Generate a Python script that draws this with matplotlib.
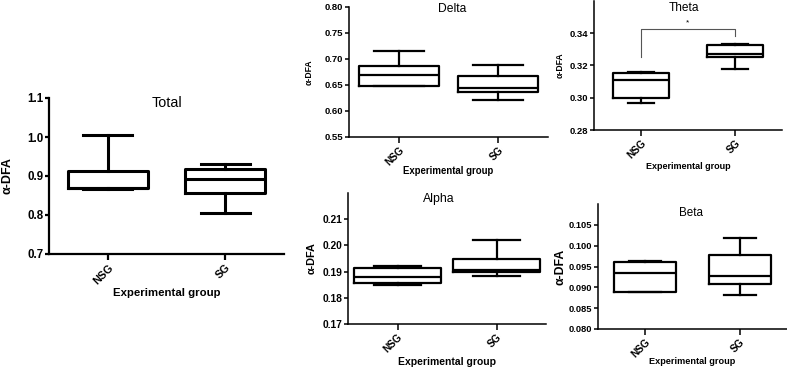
import matplotlib
matplotlib.use('Agg')
import matplotlib.pyplot as plt
from matplotlib.ticker import FormatStrFormatter

plt.rcParams['font.family'] = ['Liberation Sans', 'DejaVu Sans']

# --- data: [whisker low, q1, median, q3, whisker high] ---
groups = ['NSG', 'SG']

total_nsg = [0.866, 0.868, 0.870, 0.912, 1.005]
total_sg = [0.805, 0.857, 0.893, 0.918, 0.932]

delta_nsg = [0.648, 0.648, 0.670, 0.686, 0.716]
delta_sg = [0.621, 0.636, 0.645, 0.668, 0.688]

theta_nsg = [0.2965, 0.300, 0.311, 0.315, 0.316]
theta_sg = [0.318, 0.325, 0.327, 0.3325, 0.333]

alpha_nsg = [0.185, 0.1857, 0.188, 0.1913, 0.192]
alpha_sg = [0.1883, 0.1898, 0.1905, 0.1947, 0.202]

beta_nsg = [0.089, 0.089, 0.0934, 0.0960, 0.0963]
beta_sg = [0.0882, 0.0907, 0.0927, 0.0977, 0.1019]

theta_bracket_y = [0.3252, 0.3425, 0.3425, 0.338]

W, H = 787, 367
fig = plt.figure(figsize=(W / 100, H / 100), dpi=100)


def px_axes(left, right, top, bottom):
    return fig.add_axes([left / W, (H - bottom) / H, (right - left) / W, (bottom - top) / H])


def make_stats(vals, label):
    lo, q1, med, q3, hi = vals
    return dict(whislo=lo, q1=q1, med=med, q3=q3, whishi=hi, label=label, fliers=[])


def panel(ax, nsg, sg, title, ylim, yticks, fmt, title_pos, sizes, box_w, cap_w, lw, spine_lw,
          ylab_px, xlab_px):
    tick_fs, title_fs, ylab_fs, xlab_fs, cat_fs = sizes
    stats = [make_stats(nsg, groups[0]), make_stats(sg, groups[1])]
    ax.bxp(stats, positions=[1, 2], widths=box_w, capwidths=cap_w, showfliers=False,
           boxprops=dict(color='black', linewidth=lw),
           medianprops=dict(color='black', linewidth=lw),
           whiskerprops=dict(color='black', linewidth=lw),
           capprops=dict(color='black', linewidth=lw))
    ax.set_xlim(0.5, 2.5)
    ax.set_ylim(*ylim)
    ax.set_yticks(yticks)
    ax.yaxis.set_major_formatter(FormatStrFormatter(fmt))
    ax.set_xticks([1, 2])
    ax.set_xticklabels(groups, rotation=45, ha='right', rotation_mode='anchor',
                       fontsize=cat_fs, fontweight='bold')
    for lab in ax.get_yticklabels():
        lab.set_fontweight('bold')
    ax.tick_params(axis='y', labelsize=tick_fs, length=3, width=spine_lw, pad=1)
    ax.tick_params(axis='x', length=4, width=spine_lw, pad=2)
    ax.spines['top'].set_visible(False)
    ax.spines['right'].set_visible(False)
    ax.spines['left'].set_linewidth(spine_lw)
    ax.spines['bottom'].set_linewidth(spine_lw)
    ax.text(title_pos[0], title_pos[1], title, transform=ax.transAxes, ha='center', va='center',
            fontsize=title_fs)
    # label anchors given as pixel distances from the spines
    bb = ax.get_position()
    w_px, h_px = bb.width * W, bb.height * H
    ax.set_ylabel('α-DFA', fontsize=ylab_fs, fontweight='bold')
    ax.yaxis.set_label_coords(-ylab_px / w_px, 0.5)
    ax.set_xlabel('Experimental group', fontsize=xlab_fs, fontweight='bold')
    ax.xaxis.set_label_coords(0.5, -xlab_px / h_px)
    ax.patch.set_alpha(0)


ax_total = px_axes(49, 284, 98, 254)
panel(ax_total, total_nsg, total_sg, 'Total', (0.7, 1.1), [0.7, 0.8, 0.9, 1.0, 1.1], '%.1f',
      (0.50, 0.968), (8.3, 10.4, 9, 8.2, 7.8), 0.68, 0.42, 2.2, 1.6, 35, 34)

ax_delta = px_axes(349, 548, 7, 137)
panel(ax_delta, delta_nsg, delta_sg, 'Delta', (0.55, 0.80), [0.55, 0.60, 0.65, 0.70, 0.75, 0.80],
      '%.2f', (0.52, 0.985), (6.8, 8.7, 6.2, 6.9, 7.3), 0.8, 0.5, 1.6, 1.1, 35, 29.5)

ax_theta = px_axes(594, 782, 0.7, 130)
panel(ax_theta, theta_nsg, theta_sg, 'Theta', (0.28, 0.36), [0.28, 0.30, 0.32, 0.34],
      '%.2f', (0.48, 0.946), (6.8, 8.6, 6.2, 6.5, 7.3), 0.6, 0.28, 1.6, 1.1, 29, 32)
ax_theta.plot([1, 1, 2, 2], theta_bracket_y, color='#555555', linewidth=0.8)
ax_theta.text(1.5, 0.3462, '*', ha='center', va='center', fontsize=6)

ax_alpha = px_axes(348, 546, 193, 324)
panel(ax_alpha, alpha_nsg, alpha_sg, 'Alpha', (0.17, 0.22), [0.17, 0.18, 0.19, 0.20, 0.21],
      '%.2f', (0.46, 0.954), (7.4, 8.8, 7.8, 7.5, 7.3), 0.88, 0.47, 1.6, 1.1, 31, 33)

ax_beta = px_axes(598, 787, 204, 329)
panel(ax_beta, beta_nsg, beta_sg, 'Beta', (0.08, 0.11),
      [0.080, 0.085, 0.090, 0.095, 0.100, 0.105], '%.3f', (0.49, 0.928),
      (6.7, 8.4, 8.8, 6.6, 7.3), 0.66, 0.34, 1.6, 1.1, 32, 28)

fig.savefig('out.png', dpi=100)
